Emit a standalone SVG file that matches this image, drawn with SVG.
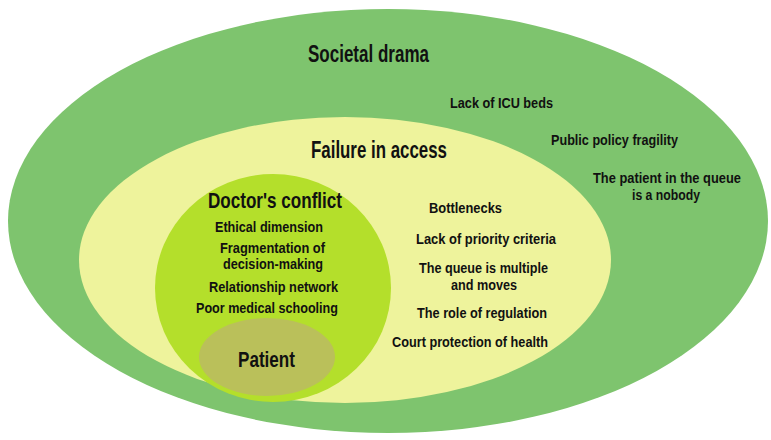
<svg xmlns="http://www.w3.org/2000/svg" width="771" height="440" viewBox="0 0 771 440">
<style>
text{font-family:"Liberation Sans",Arial,sans-serif;font-weight:bold;fill:#111}
.h{font-size:23px}
.p{font-size:21.5px}
.t{font-size:15.5px}
</style>
<rect width="771" height="440" fill="#fff"/>
<g id="societal">
<ellipse cx="388" cy="221" rx="380" ry="212" fill="#7ec46e"/>
<text class="h" x="308" y="62" textLength="121" lengthAdjust="spacingAndGlyphs">Societal drama</text>
<text class="t" x="450" y="108" textLength="103" lengthAdjust="spacingAndGlyphs">Lack of ICU beds</text>
<text class="t" x="551" y="145" textLength="127" lengthAdjust="spacingAndGlyphs">Public policy fragility</text>
<text class="t" x="593" y="183" textLength="148" lengthAdjust="spacingAndGlyphs">The patient in the queue</text>
<text class="t" x="632" y="200" textLength="68" lengthAdjust="spacingAndGlyphs">is a nobody</text>
</g>
<g id="access">
<ellipse cx="345" cy="260" rx="266" ry="143" fill="#eef39c"/>
<text class="h" x="311" y="158" style="font-size:24px" textLength="136" lengthAdjust="spacingAndGlyphs">Failure in access</text>
<text class="t" x="429" y="213" textLength="73" lengthAdjust="spacingAndGlyphs">Bottlenecks</text>
<text class="t" x="416" y="244" textLength="140" lengthAdjust="spacingAndGlyphs">Lack of priority criteria</text>
<text class="t" x="419" y="273" textLength="129" lengthAdjust="spacingAndGlyphs">The queue is multiple</text>
<text class="t" x="451" y="290" textLength="66" lengthAdjust="spacingAndGlyphs">and moves</text>
<text class="t" x="417" y="318" textLength="130" lengthAdjust="spacingAndGlyphs">The role of regulation</text>
<text class="t" x="392" y="347" textLength="156" lengthAdjust="spacingAndGlyphs">Court protection of health</text>
</g>
<g id="doctor">
<ellipse cx="273" cy="288" rx="118" ry="114" fill="#b4df2b"/>
<text class="h" x="208" y="208" style="font-size:22px" textLength="134" lengthAdjust="spacingAndGlyphs">Doctor's conflict</text>
<text class="t" x="215" y="232" textLength="108" lengthAdjust="spacingAndGlyphs">Ethical dimension</text>
<text class="t" x="220" y="253" textLength="105" lengthAdjust="spacingAndGlyphs">Fragmentation of</text>
<text class="t" x="223" y="269" textLength="100" lengthAdjust="spacingAndGlyphs">decision-making</text>
<text class="t" x="209" y="292" textLength="129" lengthAdjust="spacingAndGlyphs">Relationship network</text>
<text class="t" x="196" y="313" textLength="142" lengthAdjust="spacingAndGlyphs">Poor medical schooling</text>
</g>
<g id="patient">
<ellipse cx="267" cy="357" rx="68" ry="39" fill="#bac05a"/>
<text class="p" x="238" y="367" textLength="57" lengthAdjust="spacingAndGlyphs">Patient</text>
</g>
<g id="connectors"/>
</svg>
